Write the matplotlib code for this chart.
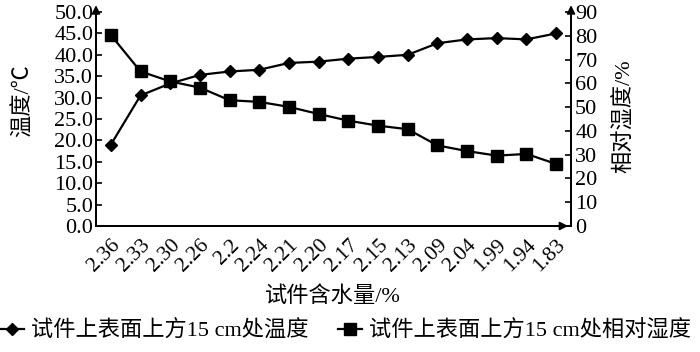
import matplotlib
matplotlib.use("Agg")
import matplotlib.pyplot as plt

plt.rcParams['font.family'] = ['Liberation Serif', 'Noto Sans CJK SC']
plt.rcParams['axes.unicode_minus'] = False

categories = ["2.36", "2.33", "2.30", "2.26", "2.2", "2.24", "2.21", "2.20",
              "2.17", "2.15", "2.13", "2.09", "2.04", "1.99", "1.94", "1.83"]
temperature = [19.0, 30.5, 33.3, 35.3, 36.1, 36.5, 38.1, 38.4,
               39.1, 39.5, 40.0, 42.7, 43.6, 43.9, 43.6, 45.0]
humidity = [80.3, 65.0, 60.8, 58.2, 52.9, 52.2, 50.1, 47.1,
            44.3, 42.2, 40.7, 33.9, 31.5, 29.6, 30.3, 26.1]
temp_ticks = [0, 5, 10, 15, 20, 25, 30, 35, 40, 45, 50]
hum_ticks = [0, 10, 20, 30, 40, 50, 60, 70, 80, 90]

W, H = 700, 352
fig = plt.figure(figsize=(W/100, H/100), dpi=100)
ax = fig.add_axes([96/W, 1-226/H, (571-96)/W, (226-12)/H])
ax2 = ax.twinx()

x = list(range(len(categories)))
l1, = ax.plot(x, temperature, color='black', lw=1.6, marker='D', markersize=6.5,
              label='试件上表面上方15 cm处温度', clip_on=False, zorder=3)
l2, = ax2.plot(x, humidity, color='black', lw=1.6, marker='s', markersize=8,
               label='试件上表面上方15 cm处相对湿度', clip_on=False, zorder=3)

ax.set_xlim(-0.5, len(categories) - 0.5)
ax.set_ylim(0, 50)
ax2.set_ylim(0, 90)
ax.set_yticks(temp_ticks)
ax.set_yticklabels([f"{v:.1f}" for v in temp_ticks])
ax2.set_yticks(hum_ticks)
ax2.set_yticklabels([str(v) for v in hum_ticks])
ax.set_xticks(x)
ax.set_xticklabels(categories, rotation=45, ha='right', rotation_mode='anchor')

for a in (ax, ax2):
    a.spines['top'].set_visible(False)
    for s in a.spines.values():
        s.set_linewidth(1.3)
ax.tick_params(axis='y', direction='in', length=4, width=1.2, labelsize=16, pad=2)
ax2.tick_params(axis='y', direction='in', length=4, width=1.2, labelsize=16, pad=3)
ax.tick_params(axis='x', length=0, labelsize=15.5, pad=7)

fs = 16
fig.text(23/W, 1-101/H, '温度/℃', rotation=90, ha='center', va='center', fontsize=fs)
fig.text(625/W, 1-116/H, '相对湿度/%', rotation=90, ha='center', va='center', fontsize=fs)
fig.text(333/W, 1-297/H, '试件含水量/%', ha='center', va='center', fontsize=fs)

# axis arrows
ax.annotate('', xy=(0, 1.045), xycoords='axes fraction', xytext=(0, 0.98),
            arrowprops=dict(arrowstyle='-|>', color='black', lw=1.3, mutation_scale=12))
ax.annotate('', xy=(1, 1.045), xycoords='axes fraction', xytext=(1, 0.98),
            arrowprops=dict(arrowstyle='-|>', color='black', lw=1.3, mutation_scale=12))
ax.annotate('', xy=(1.0, 0), xycoords='axes fraction', xytext=(0.95, 0),
            arrowprops=dict(arrowstyle='-|>', color='black', lw=1.3, mutation_scale=12))

fig.legend(handles=[l1, l2], loc='center left', bbox_to_anchor=(0.0, 1-331/H),
           ncol=2, frameon=False, fontsize=fs, handlelength=1.1, handletextpad=0.3,
           columnspacing=1.3, borderaxespad=0.0, borderpad=0.0)

fig.savefig('out.png', dpi=100)
